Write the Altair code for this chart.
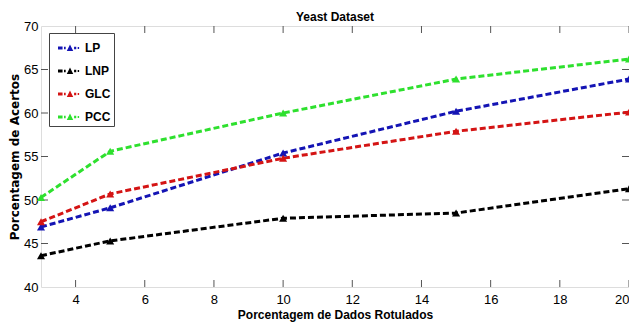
import altair as alt
import pandas as pd

x_vals = [3, 5, 10, 15, 20]
series = ["LP", "LNP", "GLC", "PCC"]
lp = [46.9, 49.1, 55.4, 60.2, 63.9]
lnp = [43.6, 45.3, 47.9, 48.5, 51.3]
glc = [47.5, 50.7, 54.8, 57.9, 60.1]
pcc = [50.3, 55.6, 60.0, 63.9, 66.2]
colors = ["#1414b4", "#000000", "#d41414", "#2ee02e"]
x_ticks = [4, 6, 8, 10, 12, 14, 16, 18, 20]
y_ticks = [45, 50, 55, 60, 65]

rows = []
for name, vals in zip(series, [lp, lnp, glc, pcc]):
    for xv, yv in zip(x_vals, vals):
        rows.append({"x": xv, "y": yv, "s": name})
df = pd.DataFrame(rows)

FONT = "Liberation Sans"
xs = alt.Scale(domain=[3, 20], nice=False, zero=False)
ys = alt.Scale(domain=[40, 70], nice=False, zero=False)
cs = alt.Scale(domain=series, range=colors)

legend_path = ("M-1,-0.12 L-0.62,-0.12 L-0.62,0.12 L-1,0.12 Z "
               "M-0.5,-0.1 L-0.36,-0.1 L-0.36,0.1 L-0.5,0.1 Z "
               "M-0.27,0.24 L0,-0.3 L0.27,0.24 Z "
               "M0.34,-0.1 L0.52,-0.1 L0.52,0.1 L0.34,0.1 Z "
               "M0.64,-0.08 L0.76,-0.08 L0.76,0.08 L0.64,0.08 Z")

leg = alt.Legend(title=None, orient="none", legendX=8, legendY=7,
                 symbolType=legend_path, symbolSize=576, symbolStrokeWidth=0,
                 labelFont=FONT, labelFontSize=12, labelFontWeight="bold", labelColor="#000",
                 strokeColor="#444", fillColor="white", padding=3,
                 rowPadding=5, labelOffset=3, symbolOffset=6)

base = alt.Chart(df)
lines = base.mark_line(strokeWidth=3, strokeDash=[6, 3]).encode(
    x=alt.X("x:Q", scale=xs,
            axis=alt.Axis(values=x_ticks, title="Porcentagem de Dados Rotulados", grid=False,
                          tickSize=0, labelPadding=6, domain=False, labelFontSize=13,
                          labelFont=FONT, labelColor="#000", titleFont=FONT, titleFontSize=12,
                          titleFontWeight="bold", titlePadding=3, titleColor="#000")),
    y=alt.Y("y:Q", scale=ys,
            axis=alt.Axis(values=[40] + y_ticks + [70], title="Porcentagem de Acertos", grid=False,
                          tickSize=0, labelPadding=3, domain=False, labelFontSize=13,
                          labelFont=FONT, labelColor="#000", titleFont="DejaVu Sans",
                          titleFontSize=12, titleFontWeight="bold", titlePadding=2,
                          titleColor="#000")),
    color=alt.Color("s:N", scale=cs, sort=series, legend=leg),
    detail="s:N",
)
points = base.mark_point(filled=True, shape="triangle-up", size=65, opacity=1).encode(
    x=alt.X("x:Q", scale=xs),
    y=alt.Y("y:Q", scale=ys),
    color=alt.Color("s:N", scale=cs, sort=series, legend=leg),
)

tick_len_x = 7 / (261 / 30)
tick_len_y = 7 / (588 / 17)
bx = pd.DataFrame({"t": x_ticks})
by = pd.DataFrame({"t": y_ticks})
tick_color = "#555"
xt_bot = alt.Chart(bx).mark_rule(color=tick_color).encode(
    x=alt.X("t:Q", scale=xs), y=alt.datum(40), y2=alt.datum(40 + tick_len_x))
xt_top = alt.Chart(bx).mark_rule(color=tick_color).encode(
    x=alt.X("t:Q", scale=xs), y=alt.datum(70), y2=alt.datum(70 - tick_len_x))
yt_left = alt.Chart(by).mark_rule(color=tick_color).encode(
    y=alt.Y("t:Q", scale=ys), x=alt.datum(3), x2=alt.datum(3 + tick_len_y))
yt_right = alt.Chart(by).mark_rule(color=tick_color).encode(
    y=alt.Y("t:Q", scale=ys), x=alt.datum(20), x2=alt.datum(20 - tick_len_y))

chart = alt.layer(xt_bot, xt_top, yt_left, yt_right, lines, points).properties(
    width=588, height=261,
    title=alt.TitleParams("Yeast Dataset", font=FONT, fontSize=12, fontWeight="bold",
                          color="#000", offset=0, dy=4),
    autosize=alt.AutoSizeParams(type="none"),
    padding={"left": 33, "top": 18, "right": 0, "bottom": 35},
).configure_view(stroke="#555", strokeWidth=1.5).configure(background="white")

chart.save("out.html", embed_options={"renderer": "svg", "actions": False})
